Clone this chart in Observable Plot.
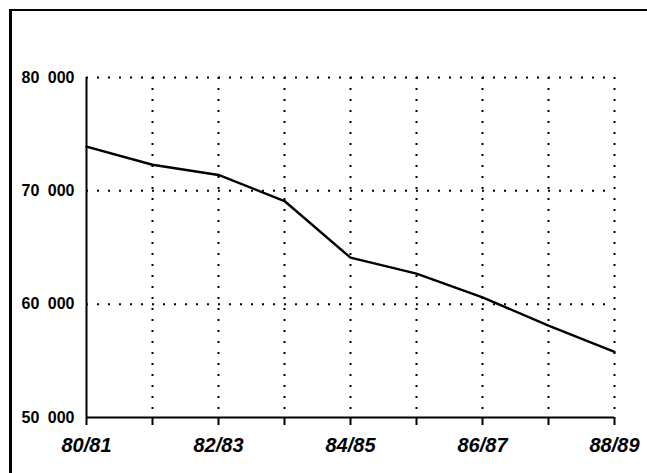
<!DOCTYPE html>
<html>
<head>
<meta charset="utf-8">
<script src="https://cdn.jsdelivr.net/npm/d3@7"></script>
<script src="https://cdn.jsdelivr.net/npm/@observablehq/plot@0.6"></script>
<style>
  html, body { margin: 0; padding: 0; background: #fff; }
  #wrap { position: relative; width: 647px; height: 473px; overflow: hidden; }
  .ylab text { word-spacing: 4px; }
</style>
</head>
<body>
<div id="wrap"></div>
<script>
const categories = ["80/81","81/82","82/83","83/84","84/85","85/86","86/87","87/88","88/89"];
const values = [73900, 72300, 71400, 69100, 64100, 62700, 60600, 58100, 55800];
const yTicks = [50000, 60000, 70000, 80000];
const xLabelled = ["80/81","82/83","84/85","86/87","88/89"];

const data = categories.map((c, i) => ({season: c, value: values[i]}));
const fmt = d => d3.format(",")(d).replace(/,/g, " ");

const chart = Plot.plot({
  width: 647,
  height: 473,
  marginLeft: 86,
  marginRight: 33,
  marginTop: 77,
  marginBottom: 56,
  style: {background: "#fff", color: "#000", overflow: "visible"},
  x: {type: "point", domain: categories, padding: 0},
  y: {domain: [50000, 80000]},
  marks: [
    Plot.gridY(yTicks.slice(1), {stroke: "#000", strokeOpacity: 1, strokeWidth: 2, strokeDasharray: "2,9"}),
    Plot.gridX(categories.slice(1), {stroke: "#000", strokeOpacity: 1, strokeWidth: 2, strokeDasharray: "2,9"}),
    Plot.ruleX([categories[0]], {stroke: "#000", strokeWidth: 2}),
    Plot.ruleY([50000], {stroke: "#000", strokeWidth: 2}),
    Plot.line(data, {x: "season", y: "value", stroke: "#000", strokeWidth: 2.4}),
    Plot.axisY(yTicks, {tickSize: 0, tickPadding: 12, tickFormat: fmt, label: null,
      fontFamily: "'Liberation Sans', Arial, sans-serif", fontWeight: "bold", fontSize: 16, className: "ylab"}),
    Plot.axisX(categories, {tickSize: 8, tickPadding: 12, strokeWidth: 2, label: null,
      tickFormat: d => xLabelled.includes(d) ? d : "",
      fontFamily: "'Liberation Sans', Arial, sans-serif", fontWeight: "bold", fontStyle: "italic", fontSize: 20})
  ]
});
// decorative page frame (top and left edges of the scanned box)
d3.select(chart).append("rect")
  .attr("x", 9).attr("y", 9).attr("width", 3).attr("height", 464)
  .attr("fill", "#000");
d3.select(chart).append("rect")
  .attr("x", 9).attr("y", 9).attr("width", 638).attr("height", 2)
  .attr("fill", "#000");
document.getElementById("wrap").appendChild(chart);
</script>
</body>
</html>
